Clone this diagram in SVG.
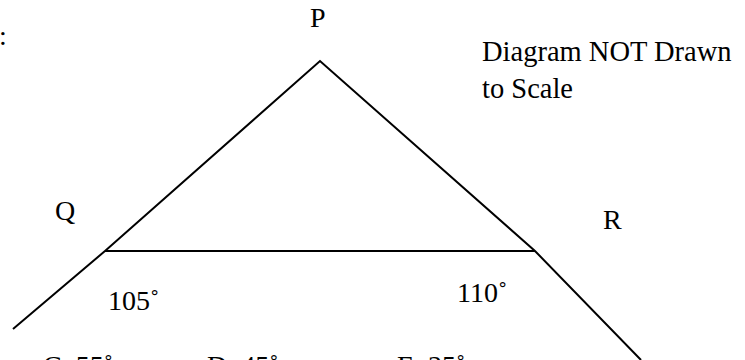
<svg xmlns="http://www.w3.org/2000/svg" width="745" height="360" viewBox="0 0 745 360">
<style>
  .t { font-family: "Liberation Serif", "Times New Roman", serif; font-size: 28px; fill: #000; }
  .note { font-size: 28.5px; }
  .ln { stroke: #000; stroke-width: 2; fill: none; stroke-linejoin: miter; }
</style>
<rect width="745" height="360" fill="#fff"/>
<g id="connectors">
  <polyline class="ln" points="13,329 105,251 320,61 535,251 641,360"/>
  <line class="ln" x1="105" y1="251" x2="535" y2="251"/>
</g>
<g id="node-P"><text class="t" x="310" y="27">P</text></g>
<g id="node-Q"><text class="t" x="55" y="220">Q</text></g>
<g id="node-R"><text class="t" x="603" y="229">R</text></g>
<g id="angle-Q"><text class="t" x="108" y="310">105˚</text></g>
<g id="angle-R"><text class="t" x="457" y="302">110˚</text></g>
<g id="note">
  <text class="t note" x="482" y="61">Diagram NOT Drawn</text>
  <text class="t note" x="482" y="98">to Scale</text>
</g>
<text class="t" x="-1" y="45">:</text>
<g id="choices">
  <text class="t" x="43" y="375">C. 55˚</text>
  <text class="t" x="207" y="375">D. 45˚</text>
  <text class="t" x="397" y="375">E. 35˚</text>
</g>
</svg>
